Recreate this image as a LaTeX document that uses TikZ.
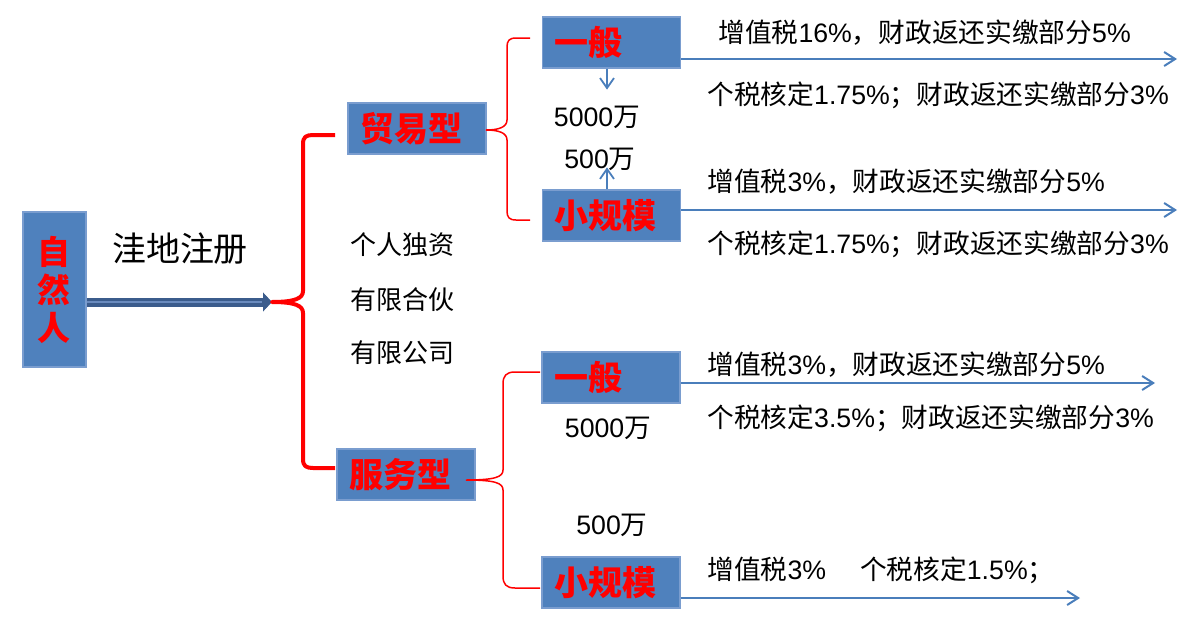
\documentclass[tikz,border=0pt]{standalone}
\usepackage{fontspec}
\setmainfont{Liberation Sans}
\newfontfamily\cjk{Noto Sans CJK SC}
\usetikzlibrary{arrows.meta}
\definecolor{boxblue}{HTML}{4F81BD}
\definecolor{boxedge}{HTML}{7A9DCF}
\definecolor{lineblue}{HTML}{4A7EBB}
\definecolor{shaftdark}{HTML}{3B5C8C}
\definecolor{shaftlight}{HTML}{6A8BBE}

\tikzset{
  chart/.style={
    kind/.style={
        draw=boxedge,
        fill=boxblue,
        line width=0.6pt,
        text=red,
        font=\cjk\bfseries\fontsize{17}{20}\selectfont,
        minimum height=25.5pt,
        inner xsep=6pt,
        text width=57pt,
        align=left,
    },
    person/.style={
        draw=boxedge,
        fill=boxblue,
        line width=0.6pt,
        text=red,
        font=\cjk\bfseries\fontsize{16.5}{19}\selectfont,
        minimum width=31.5pt,
        minimum height=77.5pt,
        inner sep=0pt,
        align=center,
    },
    note/.style={anchor=west, inner sep=0pt, font=\fontsize{13.35}{16}\selectfont},
    amount/.style={inner sep=0pt, font=\fontsize{13.35}{16}\selectfont},
    rate/.style={draw=lineblue, line width=1pt, -{Straight Barb[length=5.5pt,width=7pt]}},
    hint/.style={draw=lineblue, line width=0.9pt, -{Straight Barb[length=5pt,width=7pt]}},
    brace/.style={draw=red, line width=0.75pt},
    big brace/.style={draw=red, line width=2pt, line join=round}
  }
}

\begin{document}
\begin{tikzpicture}[chart, x=0.5pt, y=-0.5pt]
            \useasboundingbox (0,0) rectangle (1200,632);
            \tikzstyle{shaft}=[draw=shaftdark, line width=4.5pt, -{Triangle[length=4.5pt,width=9.5pt,line width=0.4pt]}]

            \node[person] (person)  at (54.5,289.5) {自\\然\\人};
            \node[kind] (trade)     at (417,128.5)  {贸易型};
            \node[kind] (service)   at (406,474.5)  {服务型};
            \node[kind] (tgen)      at (611.5,42.5) {一般};
            \node[kind] (tsmall)    at (611.5,215.5) {小规模};
            \node[kind] (sgen)      at (611,377.5)  {一般};
            \node[kind] (ssmall)    at (611,582.5)  {小规模};

            \node[font=\cjk\fontsize{17}{20}\selectfont] (park) at (180,249) {洼地注册};
            \node[note, font=\cjk\fontsize{13}{16}\selectfont] (sole)    at (350,245) {个人独资};
            \node[note, font=\cjk\fontsize{13}{16}\selectfont] (partner) at (350,300) {有限合伙};
            \node[note, font=\cjk\fontsize{13}{16}\selectfont] (company) at (350,353) {有限公司};

            \node[amount] (tbig) at (597,117) {5000{\cjk 万}};
            \node[amount] (tlow) at (600,159) {500{\cjk 万}};
            \node[amount] (sbig) at (608,428) {5000{\cjk 万}};
            \node[amount] (slow) at (612,525) {500{\cjk 万}};

            \node[note] (r1) at (718,33)  {{\cjk 增值税}16\%{\cjk ，财政返还实缴部分}5\%};
            \node[note] (r2) at (707,95)  {{\cjk 个税核定}1.75\%{\cjk ；财政返还实缴部分}3\%};
            \node[note] (r3) at (707,182) {{\cjk 增值税}3\%{\cjk ，财政返还实缴部分}5\%};
            \node[note] (r4) at (707,244) {{\cjk 个税核定}1.75\%{\cjk ；财政返还实缴部分}3\%};
            \node[note] (r5) at (707,365) {{\cjk 增值税}3\%{\cjk ，财政返还实缴部分}5\%};
            \node[note] (r6) at (707,418) {{\cjk 个税核定}3.5\%{\cjk ；财政返还实缴部分}3\%};
            \node[note] (r7) at (707,570) {{\cjk 增值税}3\%\hspace{17pt}{\cjk 个税核定}1.5\%{\cjk ；}};

            \coordinate (tip) at (272,302);
            \coordinate (e1)  at (1177,59);
            \coordinate (e2)  at (1177,210);
            \coordinate (e3)  at (1155,383);
            \coordinate (e4)  at (1080,598);

            \draw[shaft] (person.east |- tip) -- (tip);
            \draw[shaftlight, line width=1.3pt] (person.east |- tip) -- ([xshift=-5pt]tip);

            \draw[big brace] (335,135) -- (313,135) .. controls (306,135) and (303,137) .. (303,144)
                -- (303,291) .. controls (303,298) and (296,302) .. (tip)
                .. controls (296,302) and (303,306) .. (303,313)
                -- (303,459) .. controls (303,466) and (306,468) .. (313,468) -- (335,468);

            \draw[brace] (530,38) -- (516,38) .. controls (509,38) and (507,41) .. (507,47)
                -- (507,120) .. controls (507,127) and (499,130) .. (486,130)
                .. controls (499,130) and (507,133) .. (507,140)
                -- (507,211) .. controls (507,217) and (509,220) .. (516,220) -- (530,220);

            \draw[brace] (540,372) -- (515,372) .. controls (506,372) and (503,376) .. (503,384)
                -- (503,470) .. controls (503,477) and (495,480) .. (466,480)
                .. controls (495,480) and (503,483) .. (503,490)
                -- (503,576) .. controls (503,584) and (506,588) .. (515,588) -- (540,588);

            \draw[hint] ([xshift=-2.25pt]tgen.south) -- ++(0,21);
            \draw[hint] ([xshift=-2.25pt]tsmall.north) -- ++(0,-22);

            \draw[rate] (tgen.east |- e1) -- (e1);
            \draw[rate] (tsmall.east |- e2) -- (e2);
            \draw[rate] (sgen.east |- e3) -- (e3);
            \draw[rate] (ssmall.east |- e4) -- (e4);
        \end{tikzpicture}
\end{document}
